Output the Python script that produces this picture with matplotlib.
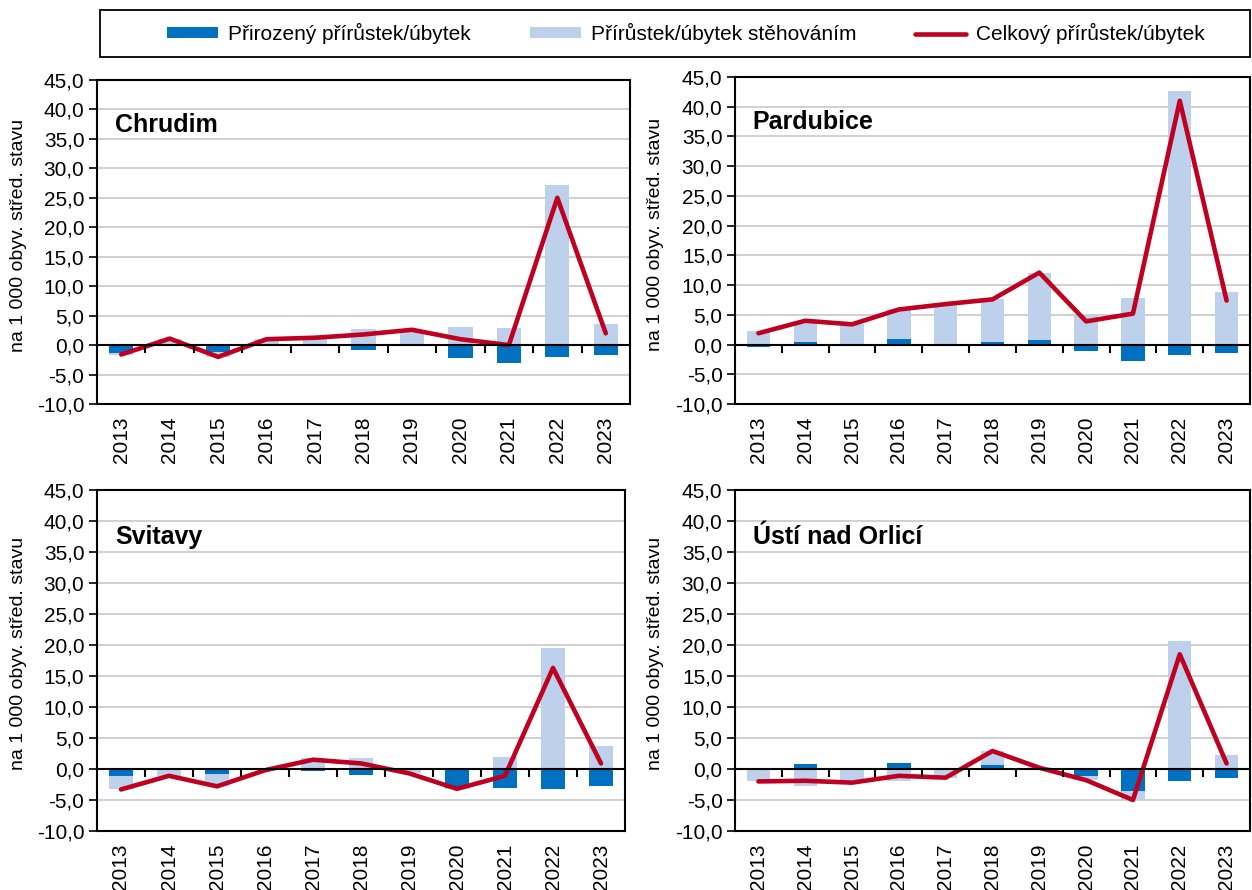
import numpy as np
import matplotlib
matplotlib.use("Agg")
import matplotlib.pyplot as plt
from matplotlib.patches import Rectangle, Patch
from matplotlib.lines import Line2D
from matplotlib.ticker import FuncFormatter, MultipleLocator

plt.rcParams['font.family'] = ['Liberation Sans', 'DejaVu Sans']

years = ['2013', '2014', '2015', '2016', '2017', '2018', '2019', '2020', '2021', '2022', '2023']

# natural change, migration change, total change (per 1 000 inhabitants)
chrudim_nat = [-1.3, 0.2, -1.1, 0.1, 0.0, -0.9, 0.1, -2.2, -3.0, -2.1, -1.6]
chrudim_mig = [-0.4, 0.9, -0.9, 0.9, 1.0, 2.7, 2.5, 3.1, 2.9, 27.1, 3.6]
chrudim_tot = [-1.6, 1.1, -2.0, 1.0, 1.25, 1.8, 2.6, 1.0, 0.0, 25.0, 2.0]

pardubice_nat = [-0.4, 0.5, 0.0, 0.9, 0.0, 0.5, 0.7, -1.1, -2.7, -1.7, -1.5]
pardubice_mig = [2.3, 3.5, 3.4, 5.0, 6.8, 7.1, 11.4, 5.0, 7.9, 42.7, 8.9]
pardubice_tot = [1.9, 4.0, 3.4, 5.9, 6.8, 7.6, 12.1, 3.9, 5.2, 41.0, 7.4]

svitavy_nat = [-1.1, -0.1, -0.8, -0.1, -0.4, -1.0, -0.2, -3.0, -3.1, -3.2, -2.8]
svitavy_mig = [-2.2, -1.0, -2.0, -0.1, 1.8, 1.8, -0.5, -0.2, 2.0, 19.5, 3.7]
svitavy_tot = [-3.3, -1.1, -2.8, -0.2, 1.5, 0.9, -0.7, -3.2, -1.1, 16.3, 0.9]

usti_nat = [-0.1, 0.8, 0.1, 0.9, -0.1, 0.6, -0.1, -1.2, -3.5, -2.0, -1.4]
usti_mig = [-1.9, -2.7, -2.3, -2.0, -1.3, 2.3, 0.3, -0.5, -1.5, 20.6, 2.3]
usti_tot = [-2.0, -1.9, -2.2, -1.1, -1.4, 2.9, 0.2, -1.8, -5.0, 18.5, 0.9]

C_NAT = '#0070C0'
C_MIG = '#BDD0EC'
C_TOT = '#C00020'

fig = plt.figure(figsize=(12.52, 8.90), dpi=100)

W, H = 1252.0, 890.0
def box(l, t, r, b):
    return [l / W, 1 - b / H, (r - l) / W, (b - t) / H]

panels = [
    ('Chrudim', chrudim_nat, chrudim_mig, chrudim_tot, box(97, 80, 630, 404), -0.131),
    ('Pardubice', pardubice_nat, pardubice_mig, pardubice_tot, box(735, 77, 1250, 404), -0.138),
    ('Svitavy', svitavy_nat, svitavy_mig, svitavy_tot, box(97, 490, 625, 831), -0.132),
    ('Ústí nad Orlicí', usti_nat, usti_mig, usti_tot, box(735, 490, 1250, 831), -0.138),
]

comma = FuncFormatter(lambda v, p: ('%.1f' % v).replace('.', ','))

for name, nat, mig, tot, rect, ylab_x in panels:
    ax = fig.add_axes(rect)
    x = np.arange(len(years))
    nat = np.array(nat)
    mig = np.array(mig)
    # excel-like stacking: same-sign values stack, opposite signs start at 0
    mig_bottom = np.where(np.sign(mig) == np.sign(nat), nat, 0.0)
    ax.bar(x, nat, width=0.5, color=C_NAT, zorder=2)
    ax.bar(x, mig, width=0.5, bottom=mig_bottom, color=C_MIG, zorder=2)
    ax.plot(x, tot, color=C_TOT, lw=3.3, zorder=4,
            solid_capstyle='round', solid_joinstyle='round')

    ax.set_xlim(-0.5, len(years) - 0.5)
    ax.set_ylim(-10, 45)
    ax.yaxis.set_major_locator(MultipleLocator(5))
    ax.yaxis.set_major_formatter(comma)
    ax.grid(axis='y', color='#C8C8C8', lw=1.2, zorder=0)
    ax.set_axisbelow(True)

    ax.set_xticks(x)
    ax.set_xticklabels(years, rotation=90)
    ax.tick_params(axis='x', length=0, pad=9, labelsize=15)
    ax.tick_params(axis='y', direction='out', length=6, width=1.2, labelsize=15, pad=3)
    for s in ax.spines.values():
        s.set_linewidth(1.5)
        s.set_color('black')

    # category axis crossing at zero, ticks between categories
    sec = ax.secondary_xaxis(0, transform=ax.transData)
    sec.set_xticks(np.arange(len(years) - 1) + 0.5)
    sec.tick_params(axis='x', direction='out', length=6, width=1.5, labelbottom=False)
    sec.spines['bottom'].set_linewidth(1.5)
    sec.set_zorder(5)

    ax.text(0.034, 0.862, name, transform=ax.transAxes, fontsize=18,
            fontweight='bold', va='center', ha='left', zorder=6)
    ax.set_ylabel('na 1 000 obyv. střed. stavu', fontsize=14)
    ax.yaxis.set_label_coords(ylab_x, 0.52)

# legend frame
fig.patches.append(Rectangle((100 / W, 1 - 57 / H), 1150 / W, 47 / H,
                             transform=fig.transFigure, fill=False,
                             edgecolor='black', lw=1.3))
handles = [Patch(facecolor=C_NAT, edgecolor='none'),
           Patch(facecolor=C_MIG, edgecolor='none'),
           Line2D([], [], color=C_TOT, lw=3.3, solid_capstyle='round')]
labels = ['Přirozený přírůstek/úbytek', 'Přírůstek/úbytek stěhováním', 'Celkový přírůstek/úbytek']
fig.legend(handles, labels, loc='center', bbox_to_anchor=(686 / W, 1 - 33.5 / H),
           ncol=3, frameon=False, fontsize=15, handlelength=2.45, handleheight=0.45,
           handletextpad=0.5, columnspacing=2.8)

fig.savefig('out.png', dpi=100)
